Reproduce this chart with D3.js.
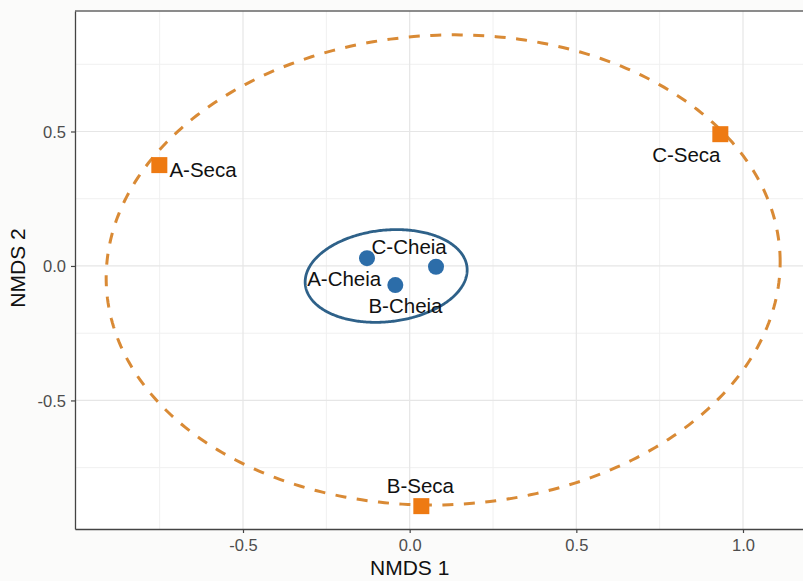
<!DOCTYPE html>
<html>
<head>
<meta charset="utf-8">
<script src="https://cdn.jsdelivr.net/npm/d3@7"></script>
<style>
  html, body { margin: 0; padding: 0; background: #fbfbfa; }
  svg { display: block; }
  text { font-family: "Liberation Sans", Arial, Helvetica, sans-serif; }
</style>
</head>
<body>
<svg id="chart" width="803" height="581"></svg>
<script>
// ---- data ----
const sampleNames = ["A-Seca", "B-Seca", "C-Seca", "A-Cheia", "B-Cheia", "C-Cheia"];
const groups      = ["Seca", "Seca", "Seca", "Cheia", "Cheia", "Cheia"];
const nmds1       = [-0.751, 0.035, 0.932, -0.128, -0.043, 0.079];
const nmds2       = [0.375, -0.893, 0.490, 0.029, -0.071, -0.003];
// label anchor positions (data units, text centre / baseline)
const labelX      = [-0.620, 0.032, 0.830, -0.1965, -0.0126, -0.0015];
const labelY      = [0.332, -0.845, 0.388, -0.0732, -0.1736, 0.0435];
// ellipse parameters per group (data units): centre, x/y components of the two axes
const ellipseGroups = ["Seca", "Cheia"];
const ellipseCx   = [0.1005, -0.0705];
const ellipseCy   = [-0.0148, -0.0372];
const ellipseAx   = [1.011, 0.243];
const ellipseAy   = [0.0297, 0.0223];
const ellipseBy   = [0.8736, 0.171];
const xTicks      = [-0.5, 0.0, 0.5, 1.0];
const yTicks      = [-0.5, 0.0, 0.5];
const xMinor      = [-0.75, -0.25, 0.25, 0.75];
const yMinor      = [-0.75, -0.25, 0.25, 0.75];
const xTitle = "NMDS 1", yTitle = "NMDS 2";

// ---- layout ----
const svg = d3.select("#chart");
const L = 75, R = 803, T = 11, B = 529;
const x = d3.scaleLinear().domain([-1.004, 1.180]).range([L, R]);
const y = d3.scaleLinear().domain([-0.978, 0.948]).range([B, T]);

const colors = {
  Seca:  { point: "#EE7A12", ellipse: "#D98A35" },
  Cheia: { point: "#2C6DA9", ellipse: "#2E6189" }
};

// panel
svg.append("rect").attr("x", L).attr("y", T).attr("width", R - L).attr("height", B - T).attr("fill", "#ffffff");

const grid = svg.append("g");
grid.selectAll(".xm").data(xMinor).join("line")
  .attr("x1", d => x(d)).attr("x2", d => x(d)).attr("y1", T).attr("y2", B)
  .attr("stroke", "#f0f0f0").attr("stroke-width", 1);
grid.selectAll(".ym").data(yMinor).join("line")
  .attr("y1", d => y(d)).attr("y2", d => y(d)).attr("x1", L).attr("x2", R)
  .attr("stroke", "#f0f0f0").attr("stroke-width", 1);
grid.selectAll(".xM").data(xTicks).join("line")
  .attr("x1", d => x(d)).attr("x2", d => x(d)).attr("y1", T).attr("y2", B)
  .attr("stroke", "#e6e6e6").attr("stroke-width", 1.2);
grid.selectAll(".yM").data(yTicks).join("line")
  .attr("y1", d => y(d)).attr("y2", d => y(d)).attr("x1", L).attr("x2", R)
  .attr("stroke", "#e6e6e6").attr("stroke-width", 1.2);

// top border
svg.append("line").attr("x1", L).attr("x2", R).attr("y1", T).attr("y2", T)
  .attr("stroke", "#666").attr("stroke-width", 1.5);

// axes
const fmt = d => d3.format(".1f")(d).replace("\u2212", "-");
const xAxis = d3.axisBottom(x).tickValues(xTicks).tickFormat(fmt).tickSize(4).tickSizeOuter(0);
const yAxis = d3.axisLeft(y).tickValues(yTicks).tickFormat(fmt).tickSize(4).tickSizeOuter(0);
const gx = svg.append("g").attr("transform", `translate(0,${B})`).call(xAxis);
const gy = svg.append("g").attr("transform", `translate(${L},0)`).call(yAxis);
[gx, gy].forEach(g => {
  g.select(".domain").attr("stroke", "#444").attr("stroke-width", 1.3);
  g.selectAll(".tick line").attr("stroke", "#444").attr("stroke-width", 1.2);
  g.selectAll(".tick text").attr("fill", "#4d4d4d").style("font-size", "16.5px")
   .style("font-family", "'Liberation Sans', Arial, sans-serif");
});
gx.selectAll(".tick text").attr("dy", null).attr("y", 22);
gy.selectAll(".tick text").attr("x", -9).attr("dy", "0.36em");

// ellipses
const ts = d3.range(0, 361).map(d => d * Math.PI / 180);
const line = d3.line().x(d => x(d[0])).y(d => y(d[1]));
ellipseGroups.forEach((g, i) => {
  const pts = ts.map(t => [
    ellipseCx[i] + ellipseAx[i] * Math.cos(t),
    ellipseCy[i] + ellipseAy[i] * Math.cos(t) + ellipseBy[i] * Math.sin(t)
  ]);
  const p = svg.append("path").attr("d", line(pts) + "Z")
    .attr("fill", "none").attr("stroke", colors[g].ellipse);
  if (g === "Seca") p.attr("stroke-width", 3).attr("stroke-dasharray", "11,10.5");
  else p.attr("stroke-width", 2.8);
});

// points
const idx = d3.range(sampleNames.length);
svg.selectAll(".sq").data(idx.filter(i => groups[i] === "Seca")).join("rect")
  .attr("x", i => x(nmds1[i]) - 8).attr("y", i => y(nmds2[i]) - 8)
  .attr("width", 16).attr("height", 16).attr("fill", colors.Seca.point);
svg.selectAll(".ci").data(idx.filter(i => groups[i] === "Cheia")).join("circle")
  .attr("cx", i => x(nmds1[i])).attr("cy", i => y(nmds2[i])).attr("r", 8)
  .attr("fill", colors.Cheia.point);

// labels
svg.selectAll(".lab").data(idx).join("text")
  .attr("x", i => x(labelX[i])).attr("y", i => y(labelY[i]))
  .attr("text-anchor", "middle").attr("fill", "#111")
  .style("font-size", "20.5px").text(i => sampleNames[i]);

// axis titles
svg.append("text").attr("x", x(0)).attr("y", 575).attr("text-anchor", "middle")
  .attr("fill", "#111").style("font-size", "21px").text(xTitle);
svg.append("text").attr("transform", `translate(25,${y(0) + 2}) rotate(-90)`)
  .attr("text-anchor", "middle").attr("fill", "#111").style("font-size", "21px").text(yTitle);
</script>
</body>
</html>
